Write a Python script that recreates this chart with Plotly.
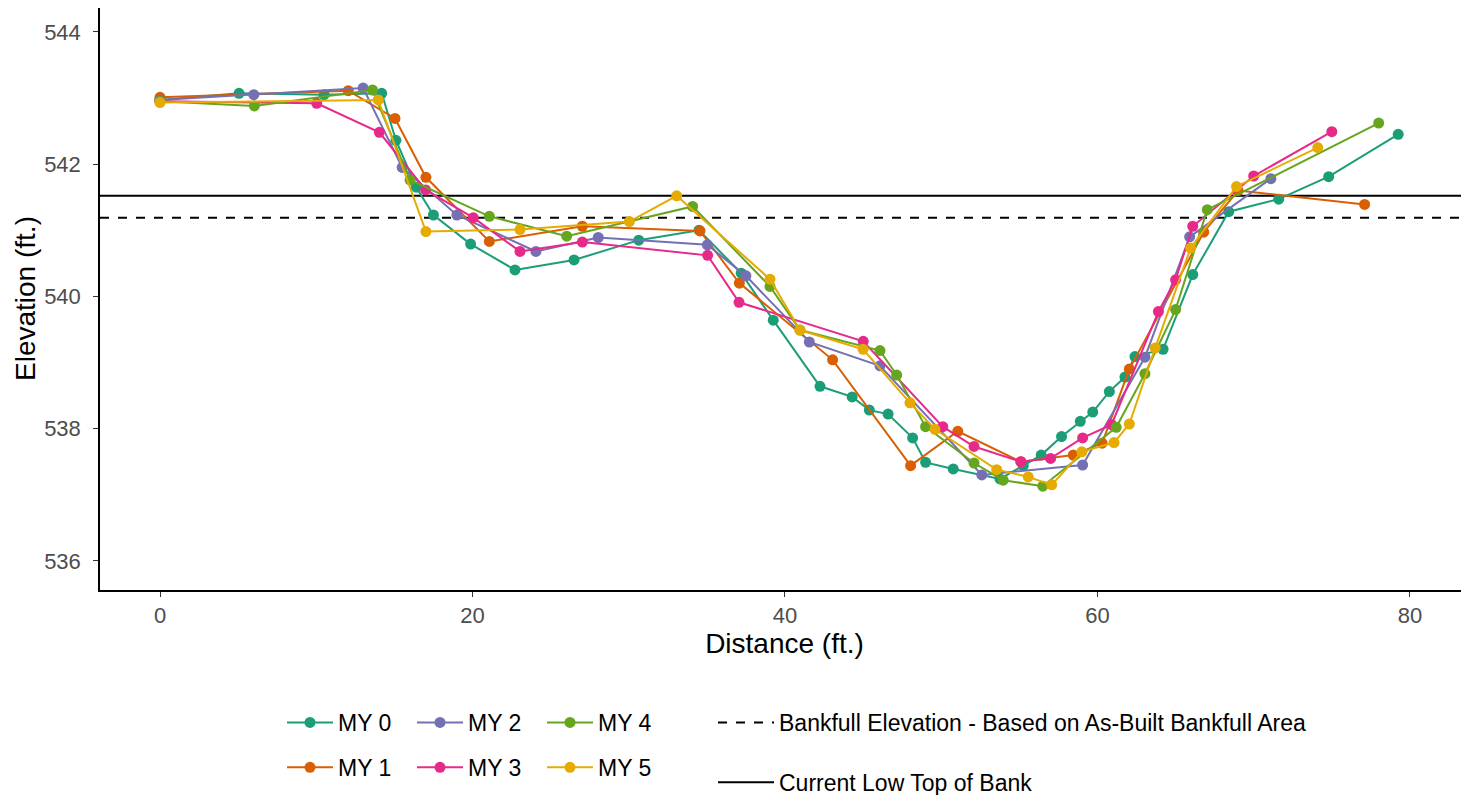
import plotly.graph_objects as go

# ---------------- data ----------------
my0_x = [0, 5.06, 10.5, 14.19, 15.1, 16.4, 17.5, 19.88, 22.72, 26.5, 30.64, 34.5, 37.2, 39.25, 42.24, 44.3,
         45.4, 46.6, 48.17, 49.0, 50.77, 53.76, 55.25, 56.4, 57.7, 58.9, 59.7, 60.76, 61.76, 62.4, 64.2,
         66.1, 68.4, 71.6, 74.8, 79.25]
my0_y = [542.97, 543.07, 543.05, 543.07, 542.36, 541.65, 541.23, 540.79, 540.40, 540.55, 540.85, 541.0, 540.35,
         539.64, 538.64, 538.48, 538.28, 538.22, 537.86, 537.49, 537.39, 537.24, 537.44, 537.6, 537.88,
         538.11, 538.25, 538.56, 538.78, 539.09, 539.2, 540.33, 541.28, 541.47, 541.81, 542.45]

my1_x = [0, 12.05, 15.04, 17.02, 21.08, 27.03, 34.56, 37.08, 43.05, 48.04, 51.06, 55.1, 58.45, 60.3,
         62.04, 66.8, 69.0, 77.1]
my1_y = [543.01, 543.11, 542.69, 541.8, 540.83, 541.06, 540.99, 540.2, 539.04, 537.44, 537.96, 537.5,
         537.6, 537.78, 538.9, 540.97, 541.6, 541.39]

my2_x = [0, 6.0, 13.0, 15.5, 19.0, 24.06, 28.05, 35.03, 37.5, 41.56, 46.08, 52.6, 59.05, 63.04, 65.9, 71.1]
my2_y = [542.97, 543.05, 543.15, 541.95, 541.23, 540.68, 540.89, 540.78, 540.31, 539.31, 538.95, 537.30,
         537.45, 539.08, 540.9, 541.78]

my3_x = [0, 10.03, 14.04, 17.0, 20.05, 23.04, 27.03, 35.05, 37.06, 45.01, 50.1, 52.1, 55.1, 57.0, 59.05,
         60.9, 63.9, 65.0, 66.1, 70.0, 75.0]
my3_y = [542.95, 542.92, 542.48, 541.61, 541.19, 540.68, 540.82, 540.62, 539.91, 539.32, 538.03, 537.73,
         537.5, 537.55, 537.86, 538.06, 539.77, 540.25, 541.06, 541.82, 542.49]

my4_x = [0, 6.04, 13.6, 16.0, 21.08, 26.03, 34.09, 39.04, 40.96, 46.08, 47.15, 49.0, 52.1, 53.97, 56.5,
         61.2, 63.04, 65.0, 67.03, 78.0]
my4_y = [542.95, 542.88, 543.12, 541.76, 541.21, 540.91, 541.36, 540.15, 539.49, 539.18, 538.81, 538.03,
         537.48, 537.22, 537.13, 538.02, 538.83, 539.8, 541.31, 542.62]

my5_x = [0, 13.97, 17.02, 23.04, 30.04, 33.07, 39.04, 40.96, 45.0, 48.0, 49.6, 53.55, 55.57, 57.07, 59.0,
         61.06, 62.04, 63.7, 65.96, 68.9, 74.1]
my5_y = [542.93, 542.97, 540.98, 541.01, 541.13, 541.52, 540.26, 539.49, 539.2, 538.39, 537.99, 537.38,
         537.27, 537.15, 537.65, 537.79, 538.07, 539.22, 540.73, 541.66, 542.25]

series_names = ["MY 0", "MY 1", "MY 2", "MY 3", "MY 4", "MY 5"]
series_colors = ["#1B9E77", "#D95F02", "#7570B3", "#E7298A", "#66A61E", "#E6AB02"]

bankfull_elev = 541.19
low_top_bank = 541.52

x_range = [-3.84, 83.78]
y_range = [535.56, 544.36]
x_ticks = [0, 20, 40, 60, 80]
y_ticks = [536, 538, 540, 542, 544]

FONT = "Liberation Sans, Arial, sans-serif"

# the page body adds an 8px margin, so the figure is 8px smaller than the window
W, H = 1461, 787
L, B = 92, 205

fig = go.Figure()

xs = [my0_x, my1_x, my2_x, my3_x, my4_x, my5_x]
ys = [my0_y, my1_y, my2_y, my3_y, my4_y, my5_y]
legend_of = ["legend", "legend", "legend2", "legend2", "legend3", "legend3"]

# reference lines
fig.add_trace(go.Scatter(x=x_range, y=[bankfull_elev, bankfull_elev], mode="lines",
                         line=dict(color="black", width=2, dash="dash"),
                         name="Bankfull Elevation - Based on As-Built Bankfull Area",
                         legend="legend4", legendgroup="bf", hoverinfo="skip"))
fig.add_trace(go.Scatter(x=x_range, y=[low_top_bank, low_top_bank], mode="lines",
                         line=dict(color="black", width=2),
                         name="Current Low Top of Bank",
                         legend="legend4", legendgroup="lt", hoverinfo="skip"))

for i in range(6):
    fig.add_trace(go.Scatter(x=xs[i], y=ys[i], mode="lines+markers", name=series_names[i],
                             line=dict(color=series_colors[i], width=2),
                             marker=dict(color=series_colors[i], size=11),
                             legend=legend_of[i], legendgroup=series_names[i]))

axis_common = dict(showgrid=False, zeroline=False, showline=True, linecolor="black", linewidth=1.5,
                   ticks="outside", ticklen=5, tickcolor="#333333", tickwidth=1,
                   tickfont=dict(family=FONT, size=22, color="#4D4D4D"), mirror=False)

fig.update_layout(
    width=W, height=H,
    plot_bgcolor="white", paper_bgcolor="white",
    margin=dict(l=L, r=0, t=0, b=B, autoexpand=False),
    font=dict(family=FONT, color="black"),
    xaxis=dict(range=x_range, tickvals=x_ticks, ticklabelstandoff=0,
               title=dict(text="Distance (ft.)", font=dict(size=28), standoff=4),
               **axis_common),
    yaxis=dict(range=y_range, tickvals=y_ticks, ticklabelstandoff=8, **axis_common),
    annotations=[dict(text="Elevation (ft.)", textangle=-90, xref="paper", yref="paper",
                      x=(17 - L) / (W - L), y=0.5, xanchor="center", yanchor="middle",
                      showarrow=False, font=dict(family=FONT, size=28, color="black"))],
)

leg_common = dict(xref="container", yref="container", xanchor="left", yanchor="top",
                  orientation="v", traceorder="grouped", tracegroupgap=12,
                  font=dict(family=FONT, size=23, color="black"), bgcolor="rgba(0,0,0,0)",
                  itemwidth=46)
top = 1 - 693 / H
fig.update_layout(
    legend=dict(x=274 / W, y=top, **leg_common),
    legend2=dict(x=404 / W, y=top, **leg_common),
    legend3=dict(x=534 / W, y=top, **leg_common),
    legend4=dict(x=705 / W, y=top, **{**leg_common, "tracegroupgap": 27, "itemwidth": 56}),
)

fig.write_html("out.html")
